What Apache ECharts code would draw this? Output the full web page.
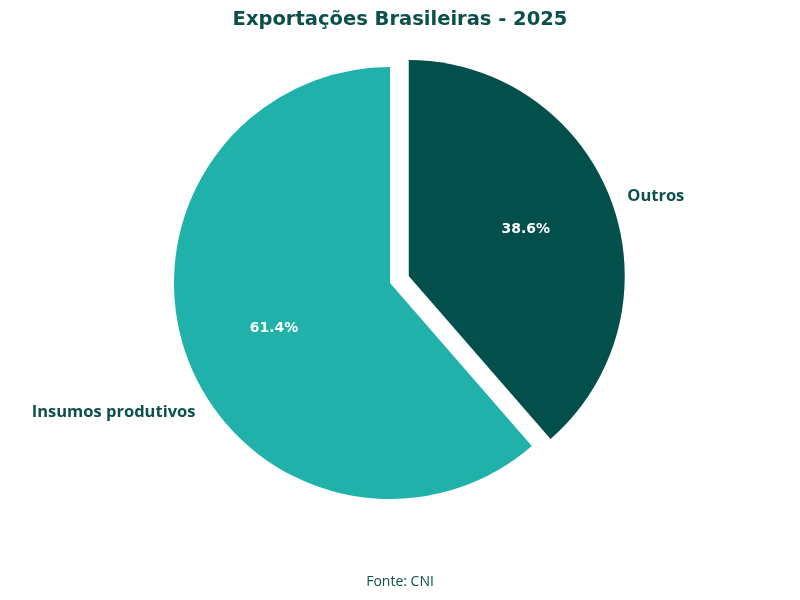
<!DOCTYPE html>
<html><head><meta charset="utf-8">
<script src="https://cdn.jsdelivr.net/npm/echarts@6/dist/echarts.min.js"></script>
<style>html,body{margin:0;padding:0;background:#fff}#c{width:800px;height:600px}</style>
</head><body><div id="c"></div>
<script>
const categories = ['Outros', 'Insumos produtivos'];
const values = [38.6, 61.4];
const colors = ['#034f4b', '#20b2aa'];
const font = 'Open Sans';
const data = categories.map((n, i) => ({name: n, value: values[i], selected: i === 0, itemStyle: {color: colors[i]}}));
const base = {type: 'pie', center: [390, 283], radius: [0, 216], startAngle: 90, clockwise: true,
  selectedMode: 'single', selectedOffset: 20, animation: false};
const outShift = [[0, 0], [24, 49]];
const inShift = [[13, -8], [-12, 6]];
const chart = echarts.init(document.getElementById('c'));
chart.setOption({
  title: [{text: 'Exportações Brasileiras - 2025', left: 'center', top: 5,
    textStyle: {fontFamily: 'DejaVu Sans', fontSize: 19.5, fontWeight: 'bold', color: '#0b504b'}},
    {text: 'Fonte: CNI', left: 'center', top: 570, textStyle: {fontFamily: font, fontSize: 14, fontWeight: 'normal', color: '#0b504b'}}],
  series: [
    Object.assign({}, base, {data: data,
      label: {show: true, position: 'outside', overflow: 'none', formatter: '{b}', fontFamily: font, fontSize: 16.5, fontWeight: 'bold', color: '#0b504b'},
      labelLine: {show: false, length: 12, length2: 0},
      labelLayout: p => ({dx: outShift[p.dataIndex][0], dy: outShift[p.dataIndex][1]})}),
    Object.assign({}, base, {silent: true,
      data: data.map(d => Object.assign({}, d, {itemStyle: {color: 'transparent'}})),
      label: {show: true, position: 'inside', formatter: p => p.value.toFixed(1) + '%', fontFamily: 'DejaVu Sans', fontSize: 14, fontWeight: 'bold', color: '#ffffff'},
      labelLine: {show: false},
      labelLayout: p => ({dx: inShift[p.dataIndex][0], dy: inShift[p.dataIndex][1]})})
  ]
});
</script></body></html>
